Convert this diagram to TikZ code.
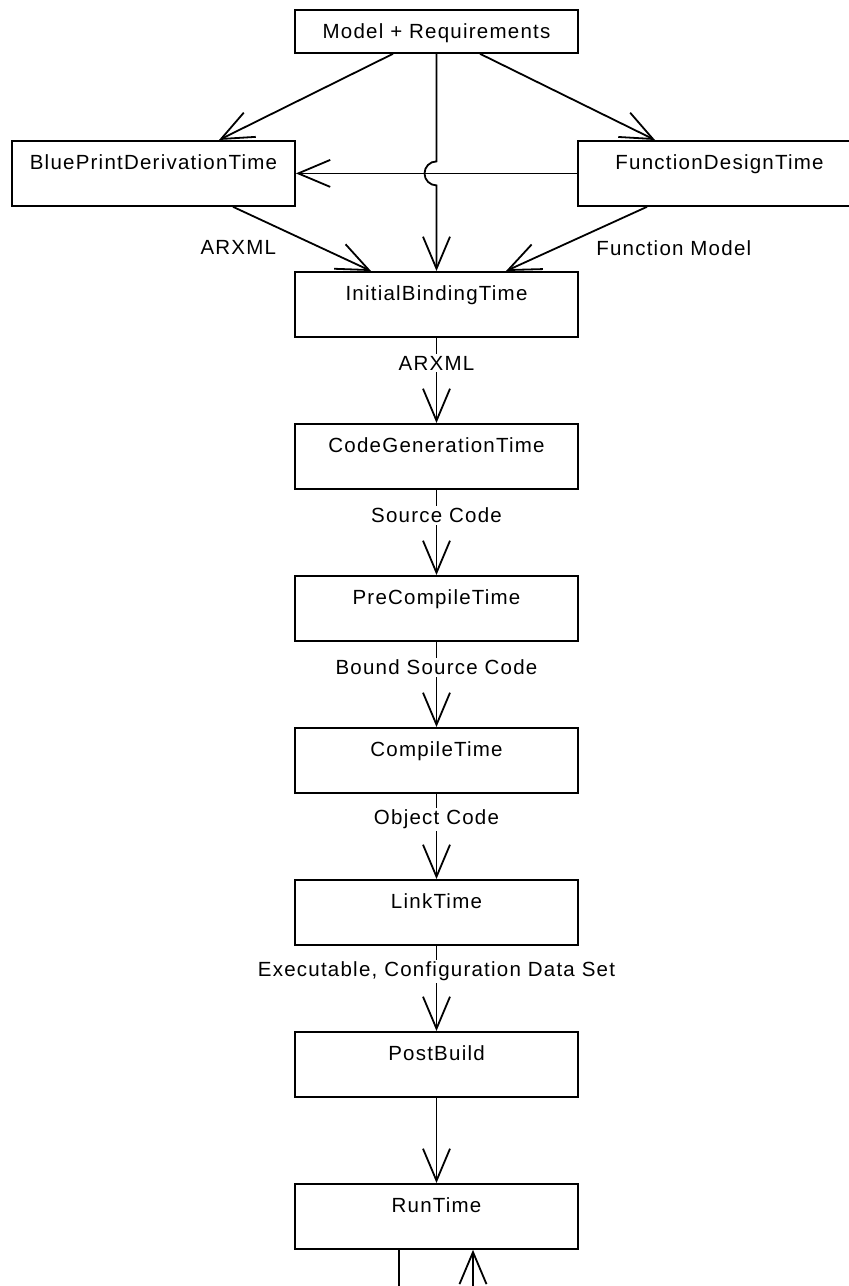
\documentclass[tikz,border=0pt]{standalone}
\usepackage{fontspec}
\setmainfont{Liberation Sans}[LetterSpace=6]
\usetikzlibrary{arrows.meta,calc}
\tikzset{
  timebox/.style={draw, line width=1.8pt, minimum width=283pt, inner sep=6pt,
    text height=23pt, text depth=30pt, anchor=north},
  flow/.style={line width=1.8pt, -{Straight Barb[length=32pt,width=27pt]}},
  flowlbl/.style={fill=white, inner sep=2pt},
}
\begin{document}
\begin{tikzpicture}[x=1pt, y=1pt, font=\fontsize{20.5}{24}\selectfont]
  \useasboundingbox (0,0) rectangle (849,-1286);
  \clip (0,0) rectangle (849,-1286);
  % boxes
  \node[timebox, text height=22.5pt, text depth=8.5pt] (model) at (436.5,-9) {Model + Requirements};
  \node[timebox] (bp) at (153.5,-140) {BluePrintDerivationTime};
  \node[timebox] (fd) at (719.5,-140) {FunctionDesignTime};
  \foreach \n/\t [count=\i from 0] in {ibt/InitialBindingTime, cgt/CodeGenerationTime,
      pct/PreCompileTime, ct/CompileTime, lt/LinkTime, pb/PostBuild, rt/RunTime}
    \node[timebox] (\n) at (436.5,-271-152*\i) {\t};
  % top part
  \draw[flow] ([xshift=-43.5]model.south) -- ([xshift=65.5]bp.north);
  \draw[flow] ([xshift=43.5]model.south) -- ([xshift=-64.5]fd.north);
  \draw[flow] (fd.west) -- (bp.east);
  \coordinate (hop) at (model.south |- bp.east);
  \draw[flow] (model.south) -- ([yshift=12]hop) arc[start angle=90, end angle=270, radius=12]
    -- (ibt.north);
  \draw[flow] ([xshift=79.5]bp.south) -- node[pos=.64, xshift=-83] {ARXML} ([xshift=-65.5]ibt.north);
  \draw[flow] ([xshift=-72.5]fd.south) -- node[pos=.64, xshift=117] {Function Model}
    ([xshift=69.5]ibt.north);
  % chain
  \foreach \a/\b/\l in {ibt/cgt/ARXML, cgt/pct/Source Code, pct/ct/Bound Source Code,
      ct/lt/Object Code, lt/pb/{Executable, Configuration Data Set}}
    \draw[flow] (\a) -- node[flowlbl, pos=.3] {\l} (\b);
  \draw[flow] (pb) -- (rt);
  % loose ends below RunTime
  \coordinate (rtout) at (399,-1290);
  \coordinate (rtin) at (473,-1290);
  \draw[line width=1.8pt] (rt.south -| rtout) -- (rtout);
  \draw[flow] (rtin) -- (rt.south -| rtin);
\end{tikzpicture}
\end{document}
